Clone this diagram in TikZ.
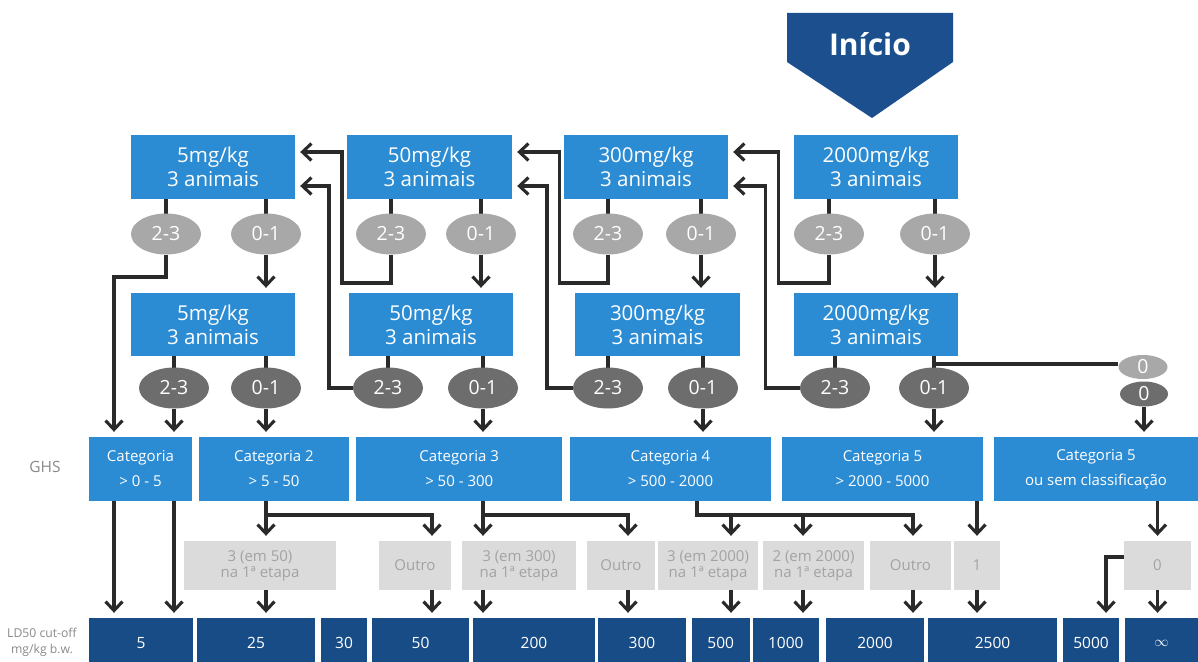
\documentclass[tikz,border=0pt]{standalone}
\usepackage{fontspec}
\setmainfont{Open Sans}
\usetikzlibrary{arrows.meta,shapes.geometric,backgrounds}
\definecolor{boxblue}{HTML}{2B8CD4}
\definecolor{darkblue}{HTML}{174C87}
\definecolor{startblue}{HTML}{1B4F8E}
\definecolor{lightell}{HTML}{A8A8A8}
\definecolor{darkell}{HTML}{6D6D6D}
\definecolor{graybox}{HTML}{DBDBDB}
\definecolor{graytext}{HTML}{A3A3A3}
\definecolor{linecol}{HTML}{2A2A2A}
\definecolor{labelgray}{HTML}{8A8A8A}
\begin{document}
\begin{tikzpicture}[x=1pt,y=-1pt,
  dose/.style={fill=boxblue,text=white,minimum width=164pt,minimum height=64pt,inner sep=0pt,align=center,font=\fontsize{20.5}{24}\selectfont},
  lell/.style={ellipse,fill=lightell,text=white,minimum width=70pt,minimum height=41pt,inner sep=0pt,font=\fontsize{19.5}{22}\selectfont},
  dell/.style={lell,fill=darkell},
  cat/.style={fill=boxblue,text=white,minimum height=64pt,inner sep=0pt,align=center,font=\fontsize{15}{25}\selectfont},
  gbox/.style={fill=graybox,text=graytext,minimum height=49pt,inner sep=0pt,align=center,font=\fontsize{15}{16}\selectfont},
  cell/.style={fill=darkblue,text=white,minimum height=50pt,inner sep=0pt,font=\fontsize{15.5}{18}\selectfont},
  lab/.style={text=labelgray,align=center,inner sep=0pt},
  conn/.style={draw=linecol,line width=3.1pt},
  arr/.style={conn,-{Straight Barb[length=9pt,width=17pt]},shorten >=5pt}
]
\useasboundingbox (0,0) rectangle (1198,661);

% start
\fill[startblue] (787,13) -- (953,13) -- (953,62) -- (872,118) -- (787,62) -- cycle;
\node[text=white,font=\fontsize{30}{32}\selectfont\bfseries] (inicio) at (870,44) {Início};

% dose boxes
\node[dose] (A1) at (213,167) {5mg/kg\\3 animais};
\node[dose,minimum width=165pt] (B1) at (429.5,167) {50mg/kg\\3 animais};
\node[dose] (C1) at (646,167) {300mg/kg\\3 animais};
\node[dose] (D1) at (876,167) {2000mg/kg\\3 animais};
\node[dose,minimum height=63pt] (A2) at (213,324.5) {5mg/kg\\3 animais};
\node[dose,minimum height=63pt] (B2) at (431,324.5) {50mg/kg\\3 animais};
\node[dose,minimum height=63pt,minimum width=165pt] (C2) at (657.5,324.5) {300mg/kg\\3 animais};
\node[dose,minimum height=63pt] (D2) at (876,324.5) {2000mg/kg\\3 animais};

% ellipses
\node[lell] (A1a) at (166,234) {2-3};
\node[lell] (A1b) at (266,234) {0-1};
\node[lell] (B1a) at (391,234) {2-3};
\node[lell] (B1b) at (481,234) {0-1};
\node[lell] (C1a) at (608,234) {2-3};
\node[lell] (C1b) at (701,234) {0-1};
\node[lell] (D1a) at (829,234) {2-3};
\node[lell] (D1b) at (935,234) {0-1};
\node[dell] (A2a) at (174,388) {2-3};
\node[dell] (A2b) at (266,388) {0-1};
\node[dell] (B2a) at (388,388) {2-3};
\node[dell] (B2b) at (483,388) {0-1};
\node[dell] (C2a) at (608,388) {2-3};
\node[dell] (C2b) at (703,388) {0-1};
\node[dell] (D2a) at (835,388) {2-3};
\node[dell] (D2b) at (934,388) {0-1};
\node[lell,minimum width=49pt,minimum height=24pt] (Z1) at (1143,367) {0};
\node[dell,minimum width=48pt,minimum height=25pt] (Z2) at (1144,394) {0};

% categories
\node[lab,font=\fontsize{15.5}{18}\selectfont] (ghs) at (45,467) {GHS};
\node[cat,minimum width=103pt] (cat1) at (140.5,469) {Categoria\\> 0 - 5};
\node[cat,minimum width=150pt] (cat2) at (274,469) {Categoria 2\\> 5 - 50};
\node[cat,minimum width=206pt] (cat3) at (459.25,469) {Categoria 3\\> 50 - 300};
\node[cat,minimum width=201pt] (cat4) at (670.5,469) {Categoria 4\\> 500 - 2000};
\node[cat,minimum width=201pt] (cat5) at (882.5,469) {Categoria 5\\> 2000 - 5000};
\node[cat,minimum width=204pt] (cat5b) at (1096,469) {Categoria 5\\ou sem classificação};

% gray boxes
\node[gbox,minimum width=152pt] (G1) at (260,565.5) {3 (em 50)\\na 1ª etapa};
\node[gbox,minimum width=72pt] (G2) at (415,565.5) {Outro};
\node[gbox,minimum width=114pt] (G3) at (519,565.5) {3 (em 300)\\na 1ª etapa};
\node[gbox,minimum width=68pt] (G4) at (621,565.5) {Outro};
\node[gbox,minimum width=100pt] (G5) at (708,565.5) {3 (em 2000)\\na 1ª etapa};
\node[gbox,minimum width=101pt] (G6) at (813.5,565.5) {2 (em 2000)\\na 1ª etapa};
\node[gbox,minimum width=81pt] (G7) at (910.5,565.5) {Outro};
\node[gbox,minimum width=46pt] (G8) at (977,565.5) {1};
\node[gbox,minimum width=67pt] (G9) at (1157.5,565.5) {0};

% bottom cells
\node[lab,font=\fontsize{12.2}{16}\selectfont] (ld) at (42,642) {LD50 cut-off\\mg/kg b.w.};
\node[cell,minimum width=104pt] (c5) at (141,643) {5};
\node[cell,minimum width=118pt] (c25) at (256,643) {25};
\node[cell,minimum width=46pt] (c30) at (344,643) {30};
\node[cell,minimum width=97pt] (c50) at (420.5,643) {50};
\node[cell,minimum width=122pt] (c200) at (534,643) {200};
\node[cell,minimum width=88pt] (c300) at (642,643) {300};
\node[cell,minimum width=57.5pt] (c500) at (720.75,643) {500};
\node[cell,minimum width=65.5pt] (c1000) at (785.75,643) {1000};
\node[cell,minimum width=98pt] (c2000) at (875,643) {2000};
\node[cell,minimum width=129pt] (c2500) at (992.5,643) {2500};
\node[cell,minimum width=56pt] (c5000) at (1091,643) {5000};
\node[cell,minimum width=73pt] (cinf) at (1161.5,643) {$\infty$};

% junction coordinates
\coordinate (xa) at (114,277);
\coordinate (xb) at (342,283);
\coordinate (xc) at (559.5,283);
\coordinate (xd) at (778.5,283);
\coordinate (yb) at (329,388);
\coordinate (yc) at (547,388);
\coordinate (yd) at (765.5,388);
\coordinate (j2) at (266,515);
\coordinate (k2) at (432,515);
\coordinate (j3) at (483,515);
\coordinate (k3) at (628,515);
\coordinate (j4) at (697,515);
\coordinate (k4a) at (731,515);
\coordinate (k4b) at (803,515);
\coordinate (k4c) at (913,515);
\coordinate (x5000) at (1106,557);

\begin{scope}[on background layer]
\fill[white] (0,0) rectangle (1198,661);
% box to ellipse stubs
\foreach \b/\e in {A1/A1a,A1/A1b,B1/B1a,B1/B1b,C1/C1a,C1/C1b,D1/D1a,D1/D1b,A2/A2a,A2/A2b,B2/B2a,B2/B2b,C2/C2a,C2/C2b,D2/D2a,D2/D2b}
  \draw[conn] (\b.south -| \e) -- (\e.center);
% 0-1 down to next box
\draw[arr] (A1b.south) -- (A1b |- A2.north);
\draw[arr] (B1b.south) -- (B1b |- B2.north);
\draw[arr] (C1b.south) -- (C1b |- C2.north);
\draw[arr] (D1b.south) -- (D1b |- D2.north);
% 2-3 feedback
\draw[arr] (A1a.south) |- (xa) -- (xa |- cat1.north);
\draw[arr] (B1a.south) |- (xb) |- ([yshift=15pt]A1.east);
\draw[arr] (B2a.west) -- (yb) |- ([yshift=-19pt]A1.east);
\draw[arr] (C1a.south) |- (xc) |- ([yshift=15pt]B1.east);
\draw[arr] (C2a.west) -- (yc) |- ([yshift=-19pt]B1.east);
\draw[arr] (D1a.south) |- (xd) |- ([yshift=15pt]C1.east);
\draw[arr] (D2a.west) -- (yd) |- ([yshift=-19pt]C1.east);
\draw[conn] (D2.south -| D2b) |- ([yshift=3pt]Z1.west);
% row 2 to categories
\draw[arr] (A2a.south) -- (A2a |- cat1.north);
\draw[arr] (A2b.south) -- (A2b |- cat2.north);
\draw[arr] (B2b.south) -- (B2b |- cat3.north);
\draw[arr] (C2b.south) -- (C2b |- cat4.north);
\draw[arr] (D2b.south) -- (D2b |- cat5.north);
\draw[arr] (Z2.south) -- (Z2 |- cat5b.north);
% categories to gray boxes
\draw[arr] (cat1.south -| xa) -- (xa |- c5.north);
\draw[arr] (cat1.south -| A2a) -- (A2a |- c5.north);
\draw[arr] (cat2.south -| j2) -- (j2 |- G1.north);
\draw[arr] (j2) -- (k2) -- (k2 |- G2.north);
\draw[arr] (cat3.south -| j3) -- (j3 |- G3.north);
\draw[arr] (j3) -- (k3) -- (k3 |- G4.north);
\draw[arr] (cat4.south -| j4) -- (j4) -- (k4c) -- (k4c |- G7.north);
\draw[arr] (k4a) -- (k4a |- G5.north);
\draw[arr] (k4b) -- (k4b |- G6.north);
\draw[arr] (cat5.south -| G8) -- (G8.north);
\draw[arr] (cat5b.south -| G9) -- (G9.north);
% gray boxes to cut-off cells
\draw[arr] (G1.south -| j2) -- (j2 |- c25.north);
\draw[arr] (G2.south -| k2) -- (k2 |- c50.north);
\draw[arr] (G3.south -| j3) -- (j3 |- c200.north);
\draw[arr] (G4.south -| k3) -- (k3 |- c300.north);
\draw[arr] (G5.south -| k4a) -- (k4a |- c500.north);
\draw[arr] (G6.south -| k4b) -- (k4b |- c1000.north);
\draw[arr] (G7.south -| k4c) -- (k4c |- c2000.north);
\draw[arr] (G8.south) -- (G8 |- c2500.north);
\draw[arr] (G9.south) -- (G9 |- cinf.north);
\draw[arr] ([yshift=8.5pt]G9.west) -- (x5000) -- (x5000 |- c5000.north);
\end{scope}
\end{tikzpicture}
\end{document}
